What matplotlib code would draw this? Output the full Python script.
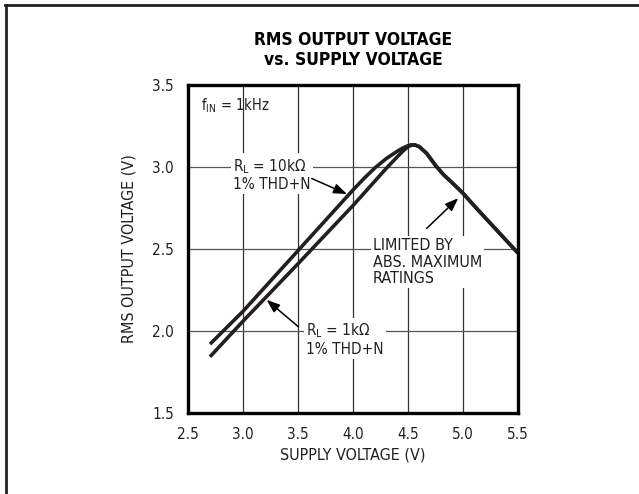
import matplotlib
matplotlib.use('Agg')
import matplotlib.pyplot as plt
from matplotlib.lines import Line2D

plt.rcParams['font.family'] = ['DejaVu Sans']
plt.rcParams['font.stretch'] = 'condensed'

# Data
v_10k = [2.7, 3.0, 3.5, 4.0, 4.1, 4.2, 4.3, 4.4, 4.45, 4.5, 4.53, 4.56, 4.6, 4.67, 4.75, 4.82, 4.9, 5.0, 5.12, 5.5]
rms_10k = [1.92, 2.12, 2.49, 2.86, 2.93, 2.995, 3.05, 3.095, 3.115, 3.13, 3.135, 3.135, 3.125, 3.083, 3.01, 2.955, 2.905, 2.84, 2.75, 2.475]
v_1k = [2.7, 3.0, 3.5, 4.0, 4.1, 4.2, 4.3, 4.4, 4.45, 4.5, 4.53, 4.56, 4.6, 4.67, 4.75, 4.82, 4.9, 5.0, 5.12, 5.5]
rms_1k = [1.843, 2.06, 2.41, 2.765, 2.84, 2.915, 2.99, 3.06, 3.095, 3.123, 3.133, 3.135, 3.125, 3.083, 3.01, 2.955, 2.905, 2.84, 2.75, 2.475]

xticks = [2.5, 3.0, 3.5, 4.0, 4.5, 5.0, 5.5]
yticks = [1.5, 2.0, 2.5, 3.0, 3.5]

curve_color = '#231f20'
text_color = '#231f20'

fig = plt.figure(figsize=(6.39, 4.94), dpi=100)
ax = fig.add_axes([188 / 639, 1 - 413 / 494, 330 / 639, 328 / 494])

# grid
for x in xticks[1:-1]:
    ax.axvline(x, color='#333333', lw=0.9, zorder=1)
for y in yticks[1:-1]:
    ax.axhline(y, color='#555555', lw=0.9, zorder=1)

ax.plot(v_10k, rms_10k, color=curve_color, lw=2.6, solid_capstyle='butt', zorder=3)
ax.plot(v_1k, rms_1k, color=curve_color, lw=2.6, solid_capstyle='butt', zorder=3)

ax.set_xlim(2.5, 5.5)
ax.set_ylim(1.5, 3.5)
ax.set_xticks(xticks)
ax.set_yticks(yticks)
ax.set_xticklabels(['%.1f' % t for t in xticks])
ax.set_yticklabels(['%.1f' % t for t in yticks])
ax.tick_params(length=0, labelsize=11, colors=text_color, pad=10)
for s in ax.spines.values():
    s.set_linewidth(2.4)
    s.set_color('black')
    s.set_zorder(5)

ax.set_xlabel('SUPPLY VOLTAGE (V)', fontsize=11.5, color=text_color, labelpad=4)
ax.set_ylabel('RMS OUTPUT VOLTAGE (V)', fontsize=11.5, color=text_color, labelpad=11)

fig.text(353 / 639, 1 - 50 / 494, 'RMS OUTPUT VOLTAGE\nvs. SUPPLY VOLTAGE', ha='center', va='center',
         fontsize=12.5, fontweight='bold', linespacing=1.15, color='black')

box = dict(facecolor='white', edgecolor='none', pad=1.5)
ax.text(2.62, 3.375, r'f$_{\mathregular{IN}}$ = 1kHz', fontsize=10.5, color=text_color, va='center', ha='left', zorder=4)
ax.text(2.91, 2.955, 'R$_{\\mathregular{L}}$ = 10k$\\mathregular{\\Omega}$\n1% THD+N', fontsize=11, color=text_color,
        va='center', ha='left', bbox=box, zorder=4, linespacing=1.1)
ax.text(3.575, 1.95, 'R$_{\\mathregular{L}}$ = 1k$\\mathregular{\\Omega}$\n1% THD+N', fontsize=11, color=text_color,
        va='center', ha='left', bbox=box, zorder=4, linespacing=1.1)
ax.text(4.18, 2.42, 'LIMITED BY\nABS. MAXIMUM\nRATINGS', fontsize=11.5, color=text_color,
        va='center', ha='left', bbox=box, zorder=4, linespacing=1.1)

arrow = dict(arrowstyle='-|>,head_length=0.8,head_width=0.3', color='black', lw=1.1, shrinkA=0, shrinkB=0)
ax.annotate('', xy=(3.945, 2.835), xytext=(3.625, 2.93), arrowprops=arrow, zorder=4)
ax.annotate('', xy=(3.215, 2.19), xytext=(3.503, 2.026), arrowprops=arrow, zorder=4)
ax.annotate('', xy=(4.957, 2.81), xytext=(4.67, 2.626), arrowprops=arrow, zorder=4)

# outer frame (left and top edges only)
fig.add_artist(Line2D([6 / 639, 6 / 639], [0, 1 - 5 / 494], color='#222222', lw=2, transform=fig.transFigure))
fig.add_artist(Line2D([5 / 639, 1], [1 - 5 / 494, 1 - 5 / 494], color='#222222', lw=2, transform=fig.transFigure))

fig.savefig('out.png', dpi=100)
